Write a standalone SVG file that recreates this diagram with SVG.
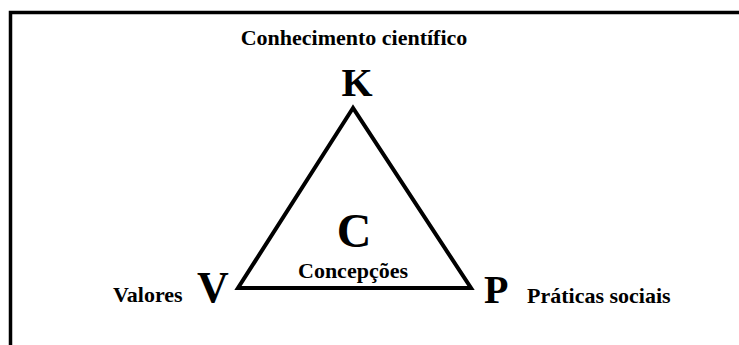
<svg xmlns="http://www.w3.org/2000/svg" width="739" height="345" viewBox="0 0 739 345" font-family="'Liberation Serif', 'Times New Roman', 'DejaVu Serif', serif" font-weight="bold">
  <style>
    .t { font-family: "Liberation Serif", "Times New Roman", "DejaVu Serif", serif; font-weight: bold; fill: #000; }
    .big { font-size: 40px; }
    .lbl { font-size: 22px; }
    .mid { text-anchor: middle; }
  </style>
  <rect x="0" y="0" width="739" height="345" fill="#fff"/>
  <path d="M10.5 345 V12.5 H739" fill="none" stroke="#000" stroke-width="3.5"/>
  <g id="connectors">
    <polygon points="353,108 238,288 471,288" fill="none" stroke="#000" stroke-width="4" stroke-linejoin="miter"/>
  </g>
  <g id="node-K">
    <text class="t lbl mid" x="354" y="45">Conhecimento científico</text>
    <text class="t big mid" x="357" y="96">K</text>
  </g>
  <g id="node-C">
    <text class="t mid" x="354" y="247" font-size="48">C</text>
    <text class="t lbl mid" x="353" y="278">Concepções</text>
  </g>
  <g id="node-V">
    <text class="t lbl" x="113" y="302">Valores</text>
    <text class="t big" x="197" y="302" font-size="44" style="font-size:44px">V</text>
  </g>
  <g id="node-P">
    <text class="t big" x="484" y="303">P</text>
    <text class="t lbl" x="527" y="303">Práticas sociais</text>
  </g>
</svg>
